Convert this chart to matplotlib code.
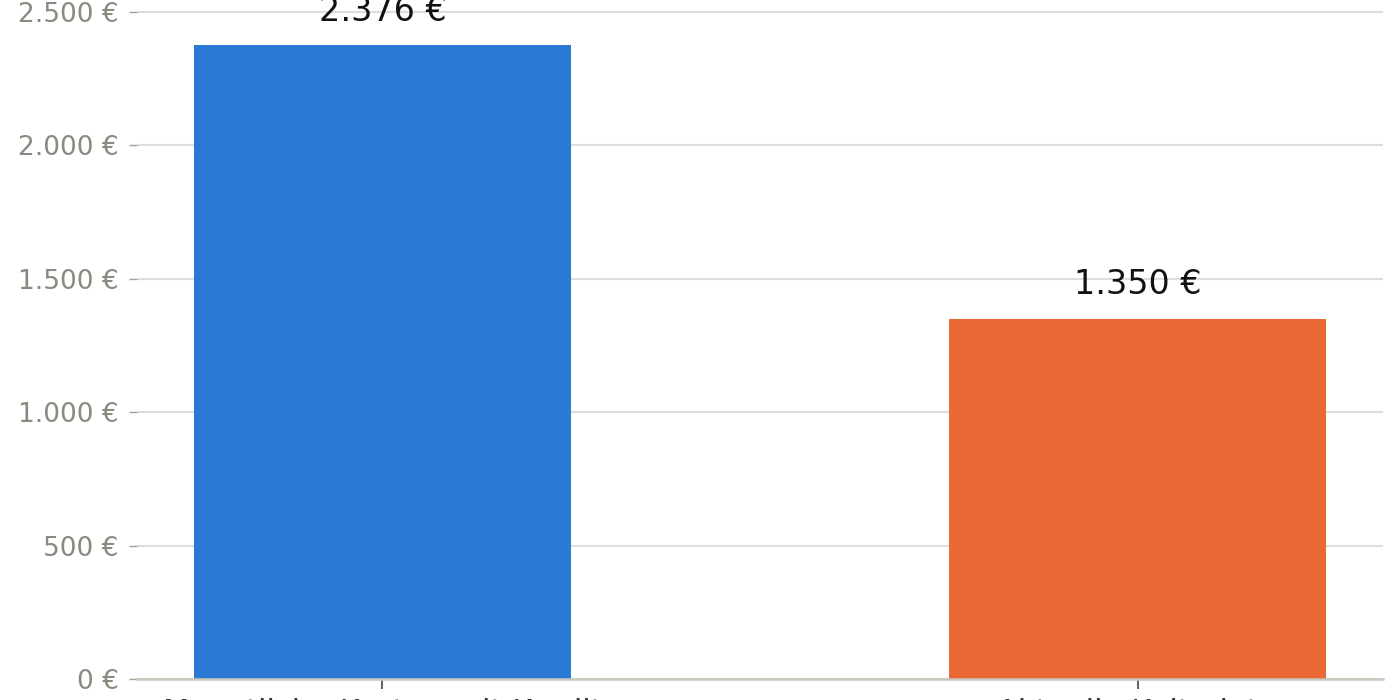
import matplotlib.pyplot as plt
from matplotlib.ticker import FuncFormatter

# Datos
categorias = ['Monatliche Kosten mit Kredit', 'Aktuelle Kaltmiete']
valores = [2376, 1350]
colores = ['#2979d5', '#ea6935']


def euro(v, pos=None):
    return f'{v:,.0f}'.replace(',', '.') + ' €'


fig = plt.figure(figsize=(14, 7), dpi=100)
ymax = max(valores) * 1.1
escala = 0.2668  # px por unidad
ax = fig.add_axes([137 / 1400, 21 / 700, (1383 - 137) / 1400, ymax * escala / 700])

x = range(len(categorias))
barras = ax.bar(x, valores, width=0.5, color=colores, zorder=2)
ax.set_ylim(0, ymax)
ax.set_xlim(-0.325, len(categorias) - 1 + 0.325)

for b, v in zip(barras, valores):
    ax.annotate(euro(v), (b.get_x() + b.get_width() / 2, v),
                xytext=(0, 12.5), textcoords='offset points',
                ha='center', va='bottom', fontsize=24, color='#111111')

ax.set_yticks([0, 500, 1000, 1500, 2000, 2500])
ax.yaxis.set_major_formatter(FuncFormatter(euro))
ax.set_xticks(list(x))
ax.set_xticklabels(categorias)

ax.grid(axis='y', color='#dddddd', linewidth=1.5, zorder=0)
for s in ['top', 'right', 'left']:
    ax.spines[s].set_visible(False)
ax.spines['bottom'].set_color('#c8c8bc')
ax.spines['bottom'].set_linewidth(1.8)

ax.tick_params(axis='y', labelsize=19, labelcolor='#8a8a80', color='#a0a098',
               length=6, width=1, pad=7)
ax.tick_params(axis='x', labelsize=22, labelcolor='#333333', color='#444444',
               length=7, width=1.2, pad=6.5)

fig.savefig('out.png', dpi=100)
